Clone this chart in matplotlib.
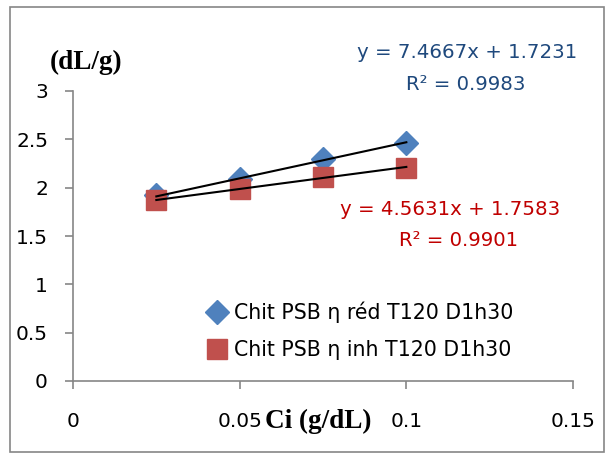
import matplotlib.pyplot as plt
import matplotlib.patches as patches

# data
ci = [0.025, 0.05, 0.075, 0.1]
eta_red = [1.92, 2.09, 2.30, 2.46]
eta_inh = [1.87, 1.99, 2.11, 2.20]
fit_red = (7.4667, 1.7231)
fit_inh = (4.5631, 1.7583)
x_ticks = [0, 0.05, 0.1, 0.15]
x_tick_labels = ["0", "0.05", "0.1", "0.15"]
y_ticks = [0, 0.5, 1, 1.5, 2, 2.5, 3]
y_tick_labels = ["0", "0.5", "1", "1.5", "2", "2.5", "3"]

blue = "#4F81BD"
red = "#C0504D"
grey = "#868686"
sans = "DejaVu Sans"
serif = "Liberation Serif"
fs_tick = 14.5
fs_eq = 14.2
fs_leg = 14.8

fig = plt.figure(figsize=(6.14, 4.57), dpi=100)
ax = fig.add_axes([73 / 614, 1 - 381 / 457, 500 / 614, 290 / 457])

# outer chart border
fig.add_artist(patches.Rectangle((10 / 614, 5 / 457), 594 / 614, 445 / 457,
                                 transform=fig.transFigure, fill=False,
                                 edgecolor=grey, linewidth=1.2))

ax.plot(ci, eta_red, linestyle="none", marker="D", markersize=12, color=blue,
        label="Chit PSB η réd T120 D1h30", zorder=3)
ax.plot(ci, eta_inh, linestyle="none", marker="s", markersize=14, color=red,
        label="Chit PSB η inh T120 D1h30", zorder=3)

# trendlines over the data range
xs = [ci[0], ci[-1]]
for a, b in (fit_red, fit_inh):
    ax.plot(xs, [a * x + b for x in xs], color="black", linewidth=1.5, zorder=4)

ax.set_xlim(0, 0.15)
ax.set_ylim(0, 3)
ax.set_xticks(x_ticks)
ax.set_xticklabels(x_tick_labels, fontfamily=sans, fontsize=fs_tick)
ax.set_yticks(y_ticks)
ax.set_yticklabels(y_tick_labels, fontfamily=sans, fontsize=fs_tick)
ax.tick_params(axis="both", color=grey, length=6, width=1.2)
ax.tick_params(axis="x", pad=16)
ax.tick_params(axis="y", pad=12)
for side in ("top", "right"):
    ax.spines[side].set_visible(False)
for side in ("left", "bottom"):
    ax.spines[side].set_color(grey)
    ax.spines[side].set_linewidth(1.2)

fig.text(86 / 614, 1 - 62 / 457, "(dL/g)", fontfamily=serif, fontweight="bold",
         fontsize=19.5, ha="center", va="center")
fig.text(318 / 614, 1 - 421 / 457, "Ci (g/dL)", fontfamily=serif, fontweight="bold",
         fontsize=19.5, ha="center", va="center")

fig.text(467 / 614, 1 - 52 / 457, "y = %.4fx + %.4f" % fit_red, fontfamily=sans,
         fontsize=fs_eq, color="#1F497D", ha="center", va="center")
fig.text(466 / 614, 1 - 85 / 457, "R² = 0.9983", fontfamily=sans,
         fontsize=fs_eq, color="#1F497D", ha="center", va="center")
fig.text(450 / 614, 1 - 210 / 457, "y = %.4fx + %.4f" % fit_inh, fontfamily=sans,
         fontsize=fs_eq, color="#C00000", ha="center", va="center")
fig.text(459 / 614, 1 - 241 / 457, "R² = 0.9901", fontfamily=sans,
         fontsize=fs_eq, color="#C00000", ha="center", va="center")

ax.legend(loc="upper left", bbox_to_anchor=(192 / 614, 1 - 291 / 457),
          bbox_transform=fig.transFigure, frameon=False,
          prop={"family": sans, "size": fs_leg}, handletextpad=0.15,
          handlelength=1.4, labelspacing=0.85, borderpad=0)

fig.savefig("out.png", dpi=100)
